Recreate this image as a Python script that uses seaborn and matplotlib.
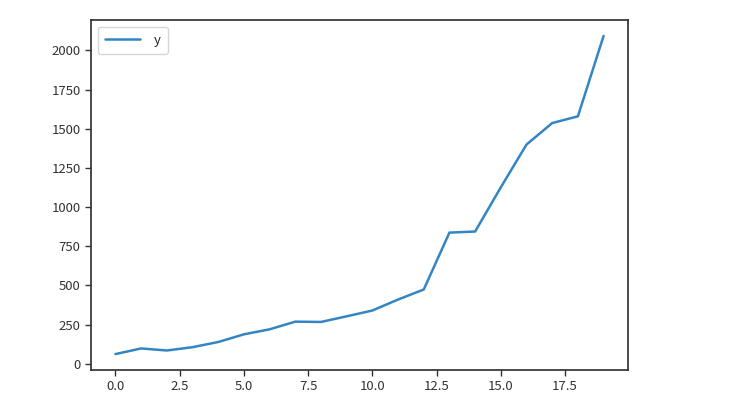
import pandas as pd
import seaborn as sns
import matplotlib
matplotlib.use("Agg")
import matplotlib.pyplot as plt

# Data
x_values = list(range(20))
y_values = [62, 98, 85, 106, 139, 188, 220, 269, 267, 303,
            340, 410, 474, 837, 844, 1126, 1399, 1536, 1579, 2092]

df = pd.DataFrame({"x": x_values, "y": y_values})

sns.set_theme(style="ticks")
plt.rcParams["font.family"] = ["Noto Sans CJK SC", "DejaVu Sans"]
plt.rcParams["axes.edgecolor"] = "#333333"
plt.rcParams["xtick.color"] = "#333333"
plt.rcParams["ytick.color"] = "#333333"

fig = plt.figure(figsize=(7.51, 4.15), dpi=100)
ax = fig.add_axes([91 / 751, 1 - 370 / 415, 537 / 751, 350 / 415])

sns.lineplot(data=df, x="x", y="y", ax=ax, color="#3385c3", linewidth=1.8, label="y")

ax.set_xlabel("")
ax.set_ylabel("")
ax.tick_params(axis="both", labelsize=9.5, length=4, width=1, labelcolor="#333333")
ax.legend(loc="upper left", fontsize=9.5, handlelength=2.7, handletextpad=1.0,
          borderpad=0.55, frameon=True, edgecolor="#cccccc")

plt.savefig("out.png", dpi=100)
